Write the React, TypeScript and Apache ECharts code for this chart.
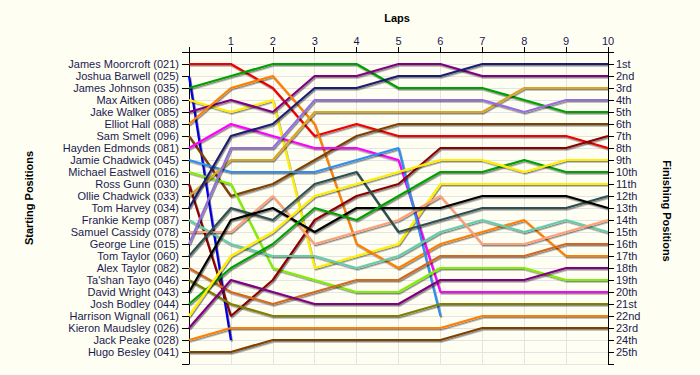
import React, { useEffect, useRef } from 'react';
import * as echarts from 'echarts';

const lapNumbers = [0, 1, 2, 3, 4, 5, 6, 7, 8, 9, 10];
const lapTickLabels = ['', '1', '2', '3', '4', '5', '6', '7', '8', '9', '10'];

const driverNames = [
  'James Moorcroft (021)', 'Joshua Barwell (025)', 'James Johnson (035)', 'Max Aitken (086)',
  'Jake Walker (085)', 'Elliot Hall (088)', 'Sam Smelt (096)', 'Hayden Edmonds (081)',
  'Jamie Chadwick (045)', 'Michael Eastwell (016)', 'Ross Gunn (030)', 'Ollie Chadwick (033)',
  'Tom Harvey (034)', 'Frankie Kemp (087)', 'Samuel Cassidy (078)', 'George Line (015)',
  'Tom Taylor (060)', 'Alex Taylor (082)', "Ta'shan Tayo (046)", 'David Wright (043)',
  'Josh Bodley (044)', 'Harrison Wignall (061)', 'Kieron Maudsley (026)', 'Jack Peake (028)',
  'Hugo Besley (041)',
];

const finishLabels = [
  '1st', '2nd', '3rd', '4th', '5th', '6th', '7th', '8th', '9th', '10th', '11th', '12th', '13th',
  '14th', '15th', '16th', '17th', '18th', '19th', '20th', '21st', '22nd', '23rd', '24th', '25th',
];

const lineColors = [
  '#f00000', '#0000dd', '#00a000', '#ffee00', '#800080', '#ff8000', '#804000', '#ff00ff',
  '#2e8ff0', '#80f000', '#8b0000', '#daa520', '#1c1c70', '#66cdaa', '#ffa07a', '#9370db',
  '#2f4f4f', '#d2691e', '#808000', '#000000', '#00a000', '#ffee00', '#800080', '#ff8000',
  '#804000',
];

// position at each lap (lap 0 = start)
const moorcroft = [1, 1, 3, 7, 6, 7, 7, 7, 7, 7, 8];
const barwell = [2, 24];
const johnson = [3, 2, 1, 1, 1, 3, 3, 3, 4, 5, 5];
const aitken = [4, 5, 4, 18, 17, 16, 11, 11, 11, 11, 11];
const walker = [5, 4, 5, 2, 2, 1, 1, 2, 2, 2, 2];
const hall = [6, 3, 2, 6, 16, 18, 16, 15, 14, 17, 17];
const smelt = [7, 12, 11, 9, 7, 6, 6, 6, 6, 6, 6];
const edmonds = [8, 6, 7, 8, 8, 9, 20, 20, 20, 20, 20];
const jChadwick = [9, 10, 10, 10, 9, 8, 22];
const eastwell = [10, 11, 18, 19, 20, 20, 18, 18, 18, 19, 19];
const gunn = [11, 22, 19, 14, 12, 11, 8, 8, 8, 8, 7];
const oChadwick = [12, 9, 9, 5, 5, 5, 5, 5, 3, 3, 3];
const harvey = [13, 7, 6, 3, 3, 2, 2, 1, 1, 1, 1];
const kemp = [14, 16, 17, 17, 18, 17, 15, 14, 15, 14, 15];
const cassidy = [15, 15, 12, 16, 15, 14, 12, 16, 16, 15, 14];
const line = [16, 8, 8, 4, 4, 4, 4, 4, 5, 4, 4];
const tTaylor = [17, 13, 14, 11, 10, 15, 14, 13, 13, 13, 12];
const aTaylor = [18, 20, 21, 20, 19, 19, 17, 17, 17, 16, 16];
const tayo = [19, 21, 22, 22, 22, 22, 21, 21, 21, 21, 21];
const wright = [20, 14, 13, 15, 13, 13, 13, 12, 12, 12, 13];
const bodley = [21, 18, 16, 13, 14, 12, 10, 10, 9, 10, 10];
const wignall = [22, 17, 15, 12, 11, 10, 9, 9, 10, 9, 9];
const maudsley = [23, 19, 20, 21, 21, 21, 19, 19, 19, 18, 18];
const peake = [24, 23, 23, 23, 23, 23, 23, 22, 22, 22, 22];
const besley = [25, 25, 24, 24, 24, 24, 24, 23, 23, 23, 23];

const lapPositions = [
  moorcroft, barwell, johnson, aitken, walker, hall, smelt, edmonds, jChadwick, eastwell,
  gunn, oChadwick, harvey, kemp, cassidy, line, tTaylor, aTaylor, tayo, wright, bodley,
  wignall, maudsley, peake, besley,
];

const FONT = "'Liberation Sans', Arial, sans-serif";
const LABEL_COLOR = '#1a1a50';

export default function App() {
  const ref = useRef<HTMLDivElement>(null);
  useEffect(() => {
    const chart = echarts.init(ref.current!, null, { renderer: 'svg' });
    const series = driverNames.map((name, i) => ({
      type: 'line',
      name,
      yAxisIndex: 0,
      data: lapPositions[i].map((p, lap) => [lapNumbers[lap], p]),
      symbol: 'none',
      showSymbol: false,
      silent: true,
      lineStyle: {
        color: lineColors[i],
        width: 2.2,
        shadowColor: 'rgba(0,0,0,0.45)',
        shadowBlur: 1,
        shadowOffsetX: 1,
        shadowOffsetY: 1.5,
      },
    }));
    const yBase = {
      type: 'value',
      inverse: true,
      min: 0,
      max: 26,
      interval: 1,
      axisLine: { show: true, onZero: false, lineStyle: { color: '#000', width: 1 } },
    };
    chart.setOption({
      animation: false,
      backgroundColor: '#fefef3',
      textStyle: { fontFamily: FONT },
      grid: { left: 189, right: 92, top: 52, bottom: 11, containLabel: false, show: false },
      xAxis: {
        type: 'value',
        position: 'top',
        min: 0,
        max: 10,
        interval: 1,
        axisLine: { show: true, onZero: false, lineStyle: { color: '#000', width: 1 } },
        axisTick: { show: true, length: 5, lineStyle: { color: '#000' } },
        axisLabel: {
          formatter: (v: number) => lapTickLabels[v] ?? '',
          margin: 6,
          fontSize: 11,
          color: LABEL_COLOR,
          fontFamily: FONT,
        },
        splitLine: { show: true, lineStyle: { color: '#e4e4e4', width: 1 } },
      },
      yAxis: [
        {
          ...yBase,
          position: 'left',
          axisTick: { show: true, length: 7, lineStyle: { color: '#000' } },
          axisLabel: {
            formatter: (v: number) => driverNames[v - 1] ?? '',
            margin: 10,
            fontSize: 11,
            color: LABEL_COLOR,
            fontFamily: FONT,
          },
          splitLine: { show: true, lineStyle: { color: '#e4e4e4', width: 1 } },
        },
        {
          ...yBase,
          position: 'right',
          axisTick: { show: true, length: 6, lineStyle: { color: '#000' } },
          axisLabel: {
            formatter: (v: number) => finishLabels[v - 1] ?? '',
            margin: 8,
            fontSize: 11,
            color: LABEL_COLOR,
            fontFamily: FONT,
          },
          splitLine: { show: false },
        },
      ],
      graphic: [
        {
          type: 'text',
          x: 397,
          y: 18,
          style: {
            text: 'Laps',
            font: `bold 11px ${FONT}`,
            fill: '#000',
            textAlign: 'center',
            textVerticalAlign: 'middle',
          },
        },
        {
          type: 'text',
          x: 29,
          y: 198,
          rotation: Math.PI / 2,
          style: {
            text: 'Starting Positions',
            font: `bold 11px ${FONT}`,
            fill: '#000',
            textAlign: 'center',
            textVerticalAlign: 'middle',
          },
        },
        {
          type: 'text',
          x: 667,
          y: 211,
          rotation: -Math.PI / 2,
          style: {
            text: 'Finishing Positions',
            font: `bold 11px ${FONT}`,
            fill: '#000',
            textAlign: 'center',
            textVerticalAlign: 'middle',
          },
        },
      ],
      series,
    });
    return () => chart.dispose();
  }, []);
  return (
    <div
      ref={ref}
      style={{ position: 'fixed', left: 0, top: 0, width: 700, height: 375 }}
    />
  );
}
